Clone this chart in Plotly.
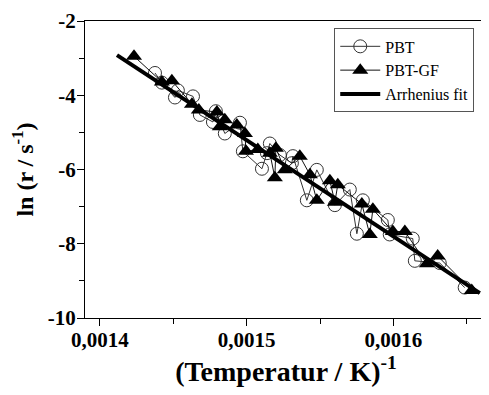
import plotly.graph_objects as go

# PBT (open circles)
pbt_x = [0.0014375, 0.0014422, 0.0014511, 0.0014531, 0.0014634, 0.0014681, 0.0014770,
         0.0014790, 0.0014851, 0.0014954, 0.0014974, 0.0015104, 0.0015138, 0.0015158,
         0.0015226, 0.0015308, 0.0015315, 0.0015410, 0.0015478, 0.0015601, 0.0015703,
         0.0015751, 0.0015792, 0.0015962, 0.0015975, 0.0016132, 0.0016146, 0.0016316,
         0.0016486]
pbt_y = [-3.40, -3.66, -4.06, -3.87, -4.03, -4.53, -4.72,
         -4.43, -5.03, -4.74, -5.51, -5.98, -5.56, -5.30,
         -5.61, -5.83, -5.64, -6.83, -6.01, -6.96, -6.54,
         -7.73, -6.83, -7.36, -7.75, -7.86, -8.46, -8.52,
         -9.18]

# PBT-GF (filled triangles)
gf_x = [0.0014232, 0.0014422, 0.0014490, 0.0014627, 0.0014674, 0.0014797, 0.0014817,
        0.0014851, 0.0014933, 0.0014988, 0.0014995, 0.0015076, 0.0015158, 0.0015192,
        0.0015199, 0.0015260, 0.0015362, 0.0015431, 0.0015478, 0.0015567, 0.0015601,
        0.0015621, 0.0015785, 0.0015839, 0.0015860, 0.0015996, 0.0016078, 0.0016228,
        0.0016302, 0.0016534]
gf_y = [-2.95, -3.64, -3.61, -4.24, -4.40, -4.45, -4.85,
        -4.66, -4.80, -5.03, -5.51, -5.46, -5.56, -6.22,
        -5.43, -6.01, -5.64, -6.14, -6.83, -6.30, -6.88,
        -6.41, -6.93, -7.75, -7.07, -7.67, -7.67, -8.54,
        -8.33, -9.26]

# Arrhenius fit
fit_x = [0.0014116, 0.0016589]
fit_y = [-2.92, -9.33]

x_tickvals = [0.0014, 0.0015, 0.0016]
x_ticktext = ["0,0014", "0,0015", "0,0016"]
y_tickvals = [-2, -4, -6, -8, -10]
y_ticktext = ["-2", "-4", "-6", "-8", "-10"]

FONT = "Liberation Serif"

fig = go.Figure()
fig.add_trace(go.Scatter(
    x=pbt_x, y=pbt_y, mode="lines+markers", name="PBT",
    line=dict(color="#333333", width=1),
    marker=dict(symbol="circle-open", size=13, color="#333333", line=dict(width=1))))
fig.add_trace(go.Scatter(
    x=gf_x, y=gf_y, mode="lines+markers", name="PBT-GF",
    line=dict(color="#111111", width=1),
    marker=dict(symbol="triangle-up", size=14, color="black")))
fig.add_trace(go.Scatter(
    x=fit_x, y=fit_y, mode="lines", name="Arrhenius fit",
    line=dict(color="black", width=4)))

fig.update_layout(
    width=481, height=387,
    margin=dict(l=77, r=1, t=10, b=77),
    paper_bgcolor="white", plot_bgcolor="white",
    font=dict(family=FONT, color="black"),
    showlegend=True,
    legend=dict(x=0.62, y=0.975, xanchor="left", yanchor="top",
                bordercolor="#555555", borderwidth=1, bgcolor="white",
                font=dict(size=16, family=FONT, color="black"), tracegroupgap=0,
                itemwidth=40),
)
fig.update_xaxes(
    range=[0.0013898, 0.0016638],
    tickvals=x_tickvals, ticktext=["<b>%s</b>" % t for t in x_ticktext],
    ticks="outside", ticklen=7, tickwidth=1, tickcolor="black",
    ticklabeloverflow="allow", ticklabelstandoff=-4,
    minor=dict(dtick=0.00005, ticks="outside", ticklen=5, tickcolor="black", tick0=0.0014),
    showline=True, linecolor="black", linewidth=1, mirror=True,
    showgrid=False, zeroline=False,
    tickfont=dict(size=21, family=FONT, color="black"),
    title=dict(text="<b>(Temperatur / K)<sup>-1</sup></b>", font=dict(size=28, family=FONT, color="black"), standoff=4),
)
fig.update_yaxes(
    range=[-10, -2],
    tickvals=y_tickvals, ticktext=["<b>%s</b>" % t for t in y_ticktext],
    ticks="outside", ticklen=7, tickwidth=1, tickcolor="black",
    ticklabeloverflow="allow", ticklabelstandoff=-3,
    minor=dict(dtick=1, ticks="outside", ticklen=5, tickcolor="black", tick0=-10),
    showline=True, linecolor="black", linewidth=1, mirror=True,
    showgrid=False, zeroline=False,
    tickfont=dict(size=21, family=FONT, color="black"),
    title=dict(text="<b>ln (r / s<sup>-1</sup>)</b>", font=dict(size=24, family=FONT, color="black"), standoff=8),
)

fig.write_html("out.html")
